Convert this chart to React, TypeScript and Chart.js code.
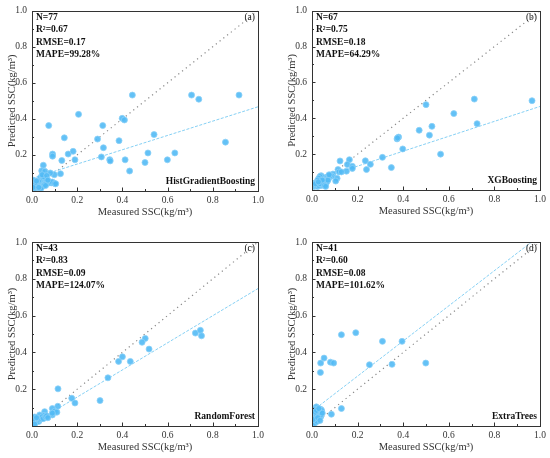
import { useEffect, useRef } from "react";
import { Chart, registerables, Plugin } from "chart.js";

Chart.register(...registerables);

// (a) HistGradientBoosting
const aMeasured = [
  0.444, 0.706, 0.738, 0.916, 0.206, 0.399, 0.409, 0.074, 0.313, 0.143,
  0.29, 0.54, 0.385, 0.316, 0.856, 0.091, 0.091, 0.16, 0.182, 0.19,
  0.132, 0.307, 0.344, 0.346, 0.412, 0.513, 0.5, 0.599, 0.632, 0.432,
  0.126, 0.099, 0.081, 0.05, 0.043, 0.057, 0.007, 0.037,
  0.01, 0.015, 0.02, 0.025, 0.03, 0.035, 0.04, 0.045, 0.05, 0.055,
  0.06, 0.065, 0.07, 0.075, 0.08, 0.085, 0.09, 0.1, 0.105, 0.05,
  0.045, 0.055, 0.04, 0.035, 0.03, 0.025, 0.02, 0.015, 0.012, 0.005,
  0.06, 0.05, 0.045, 0.065, 0.07, 0.04, 0.06, 0.03, 0.02,
];
const aPredicted = [
  0.532, 0.532, 0.509, 0.532, 0.425, 0.403, 0.394, 0.363, 0.363, 0.295,
  0.288, 0.313, 0.279, 0.24, 0.271, 0.205, 0.193, 0.205, 0.22, 0.173,
  0.169, 0.189, 0.174, 0.167, 0.173, 0.211, 0.158, 0.173, 0.211, 0.111,
  0.096, 0.09, 0.1, 0.143, 0.112, 0.109, 0.06, 0.074,
  0.02, 0.025, 0.03, 0.02, 0.035, 0.03, 0.04, 0.05, 0.045, 0.06,
  0.05, 0.045, 0.05, 0.045, 0.048, 0.045, 0.05, 0.042, 0.04, 0.03,
  0.025, 0.035, 0.06, 0.055, 0.05, 0.04, 0.045, 0.035, 0.015, 0.02,
  0.07, 0.08, 0.09, 0.085, 0.06, 0.015, 0.03, 0.02, 0.055,
];
const aFitX = [0, 1];
const aFitY = [0.07, 0.467];
const aStats = ["N=77", "R²=0.67", "RMSE=0.17", "MAPE=99.28%"];

// (b) XGBoosting
const bMeasured = [
  0.965, 0.712, 0.724, 0.5, 0.622, 0.47, 0.526, 0.515, 0.564, 0.373,
  0.38, 0.375, 0.398, 0.309, 0.348, 0.234, 0.256, 0.239, 0.164, 0.123,
  0.155, 0.177, 0.177, 0.151, 0.114, 0.119, 0.129, 0.092, 0.088, 0.11,
  0.104,
  0.01, 0.015, 0.02, 0.025, 0.03, 0.035, 0.04, 0.045, 0.05, 0.055,
  0.06, 0.065, 0.07, 0.075, 0.08, 0.04, 0.035, 0.03, 0.025, 0.045,
  0.05, 0.055, 0.06, 0.04, 0.03, 0.02, 0.05, 0.065, 0.07, 0.035,
  0.045, 0.055, 0.06, 0.015, 0.028, 0.075,
];
const bPredicted = [
  0.498, 0.507, 0.37, 0.476, 0.426, 0.333, 0.355, 0.306, 0.2, 0.285,
  0.295, 0.29, 0.229, 0.182, 0.125, 0.163, 0.143, 0.114, 0.169, 0.162,
  0.142, 0.132, 0.12, 0.105, 0.114, 0.101, 0.101, 0.089, 0.078, 0.065,
  0.05,
  0.02, 0.025, 0.03, 0.02, 0.04, 0.05, 0.06, 0.07, 0.065, 0.055,
  0.07, 0.06, 0.075, 0.07, 0.08, 0.08, 0.075, 0.065, 0.055, 0.04,
  0.03, 0.045, 0.035, 0.025, 0.025, 0.04, 0.05, 0.045, 0.055, 0.035,
  0.055, 0.025, 0.02, 0.035, 0.045, 0.085,
];
const bFitX = [0, 1];
const bFitY = [0.05, 0.466];
const bStats = ["N=67", "R²=0.75", "RMSE=0.18", "MAPE=64.29%"];

// (c) RandomForest
const cMeasured = [
  0.723, 0.745, 0.75, 0.518, 0.501, 0.487, 0.4, 0.383, 0.435, 0.336,
  0.301, 0.115, 0.176, 0.19, 0.114, 0.09, 0.1, 0.11, 0.09, 0.09,
  0.056, 0.053, 0.034, 0.046, 0.028, 0.012,
  0.005, 0.008, 0.01, 0.015, 0.02, 0.025, 0.03, 0.035, 0.04, 0.045,
  0.05, 0.06, 0.065, 0.004, 0.012, 0.02, 0.07,
];
const cPredicted = [
  0.505, 0.52, 0.49, 0.418, 0.476, 0.455, 0.376, 0.351, 0.351, 0.262,
  0.138, 0.202, 0.151, 0.125, 0.107, 0.095, 0.08, 0.075, 0.06, 0.07,
  0.078, 0.058, 0.06, 0.045, 0.031, 0.049,
  0.005, 0.015, 0.025, 0.02, 0.03, 0.04, 0.025, 0.035, 0.04, 0.05,
  0.04, 0.05, 0.055, 0.03, 0.01, 0.045, 0.045,
];
const cFitX = [0, 1];
const cFitY = [0.01, 0.747];
const cStats = ["N=43", "R²=0.83", "RMSE=0.09", "MAPE=124.07%"];

// (d) ExtraTrees
const dMeasured = [
  0.129, 0.192, 0.309, 0.395, 0.499, 0.351, 0.252, 0.053, 0.038, 0.081,
  0.095, 0.037, 0.129, 0.085, 0.019, 0.038, 0.041,
  0.005, 0.008, 0.01, 0.012, 0.015, 0.018, 0.02, 0.022, 0.025, 0.028,
  0.03, 0.032, 0.035, 0.038, 0.04, 0.042, 0.045, 0.01, 0.015, 0.005,
  0.02, 0.03, 0.025, 0.035,
];
const dPredicted = [
  0.496, 0.507, 0.46, 0.46, 0.342, 0.335, 0.333, 0.369, 0.342, 0.347,
  0.342, 0.291, 0.095, 0.064, 0.104, 0.091, 0.073,
  0.01, 0.02, 0.03, 0.015, 0.04, 0.05, 0.06, 0.025, 0.07, 0.08,
  0.055, 0.065, 0.075, 0.05, 0.06, 0.085, 0.07, 0.09, 0.075, 0.035,
  0.085, 0.095, 0.045, 0.03,
];
const dFitX = [0, 0.963];
const dFitY = [0.08, 1.0];
const dStats = ["N=41", "R²=0.60", "RMSE=0.08", "MAPE=101.62%"];

const identityLine = [0, 1];

const SERIF = "'Liberation Serif', 'Times New Roman', serif";

interface PanelProps {
  measured: number[];
  predicted: number[];
  fitX: number[];
  fitY: number[];
  stats: string[];
  tag: string;
  model: string;
  pad: { left: number; right: number; top: number; bottom: number };
}

function Panel({ measured, predicted, fitX, fitY, stats, tag, model, pad }: PanelProps) {
  const canvasRef = useRef<HTMLCanvasElement>(null);

  useEffect(() => {
    if (!canvasRef.current) return;

    // frame, inward ticks and the text inside the plot
    const decor: Plugin<"scatter"> = {
      id: "decor",
      afterDraw(chart) {
        const { ctx, chartArea: area, scales } = chart;
        const xs = scales.x;
        const ys = scales.y;
        ctx.save();
        ctx.strokeStyle = "#333";
        ctx.lineWidth = 1;
        ctx.beginPath();
        for (let i = 1; i < 10; i++) {
          const len = i % 2 === 0 ? 3.5 : 2;
          const px = Math.round(xs.getPixelForValue(i / 10)) + 0.5;
          ctx.moveTo(px, area.bottom);
          ctx.lineTo(px, area.bottom - len);
          const py = Math.round(ys.getPixelForValue(i / 10)) + 0.5;
          ctx.moveTo(area.left, py);
          ctx.lineTo(area.left + len, py);
        }
        ctx.stroke();
        ctx.strokeRect(
          Math.round(area.left) + 0.5,
          Math.round(area.top) + 0.5,
          Math.round(area.right - area.left),
          Math.round(area.bottom - area.top)
        );

        ctx.fillStyle = "#111";
        ctx.textBaseline = "middle";
        ctx.font = `bold 9.5px ${SERIF}`;
        ctx.textAlign = "left";
        stats.forEach((s, i) => {
          ctx.fillText(s, area.left + 4, area.top + 6.5 + i * 12.5);
        });
        ctx.textAlign = "right";
        ctx.fillText(model, area.right - 3, area.bottom - 9);
        ctx.font = `9.5px ${SERIF}`;
        ctx.fillText(tag, area.right - 3, area.top + 6.5);
        ctx.restore();
      },
    };

    const chart = new Chart(canvasRef.current, {
      type: "scatter",
      data: {
        datasets: [
          {
            label: "points",
            data: measured.map((m, i) => ({ x: m, y: predicted[i] })),
            backgroundColor: "rgba(82, 186, 245, 0.9)",
            borderColor: "rgba(140, 208, 248, 1)",
            borderWidth: 0.8,
            pointRadius: 3,
          },
          {
            label: "fit",
            type: "line",
            data: fitX.map((x, i) => ({ x, y: fitY[i] })),
            borderColor: "#86d0f4",
            borderWidth: 1,
            borderDash: [3, 1.5],
            pointRadius: 0,
            fill: false,
          },
          {
            label: "1:1",
            type: "line",
            data: identityLine.map((v) => ({ x: v, y: v })),
            borderColor: "#888",
            borderWidth: 1.2,
            borderDash: [1.2, 3.6],
            pointRadius: 0,
            fill: false,
          },
        ],
      },
      options: {
        responsive: false,
        animation: false,
        layout: { padding: pad },
        plugins: {
          legend: { display: false },
          tooltip: { enabled: false },
        },
        scales: {
          x: {
            type: "linear",
            min: 0,
            max: 1,
            border: { display: false },
            grid: { display: false, drawTicks: false },
            ticks: {
              stepSize: 0.2,
              padding: 4,
              color: "#333",
              font: { family: SERIF, size: 9.5 },
              callback: (v) => Number(v).toFixed(1),
            },
            title: {
              display: true,
              text: "Measured SSC(kg/m³)",
              color: "#333",
              font: { family: SERIF, size: 10.5 },
              padding: { top: 0, bottom: 0 },
            },
            afterFit: (s) => {
              s.height = 28;
            },
          },
          y: {
            type: "linear",
            min: 0,
            max: 1,
            border: { display: false },
            grid: { display: false, drawTicks: false },
            ticks: {
              stepSize: 0.2,
              padding: 5,
              color: "#333",
              font: { family: SERIF, size: 9.5 },
              callback: (v) => (Number(v) === 0 ? "" : Number(v).toFixed(1)),
            },
            title: {
              display: true,
              text: "Predicted SSC(kg/m³)",
              color: "#333",
              font: { family: SERIF, size: 10.5 },
              padding: { top: 6, bottom: 0 },
            },
            afterFit: (s) => {
              s.width = 32;
            },
          },
        },
      },
      plugins: [decor],
    });

    return () => {
      chart.destroy();
    };
  }, [measured, predicted, fitX, fitY, stats, tag, model, pad]);

  return (
    <div style={{ width: 275, height: 229 }}>
      <canvas ref={canvasRef} width={275} height={229} />
    </div>
  );
}

const padA = { left: 0, right: 17, top: 10, bottom: 10 };
const padB = { left: 5, right: 10, top: 10, bottom: 11 };
const padC = { left: 0, right: 17, top: 13, bottom: 4 };
const padD = { left: 5, right: 10, top: 13, bottom: 4 };

export default function App() {
  return (
    <div
      style={{
        position: "absolute",
        left: 0,
        top: 0,
        width: 550,
        height: 458,
        background: "#fff",
        display: "grid",
        gridTemplateColumns: "275px 275px",
        gridTemplateRows: "229px 229px",
      }}
    >
      <Panel measured={aMeasured} predicted={aPredicted} fitX={aFitX} fitY={aFitY} stats={aStats} tag="(a)" model="HistGradientBoosting" pad={padA} />
      <Panel measured={bMeasured} predicted={bPredicted} fitX={bFitX} fitY={bFitY} stats={bStats} tag="(b)" model="XGBoosting" pad={padB} />
      <Panel measured={cMeasured} predicted={cPredicted} fitX={cFitX} fitY={cFitY} stats={cStats} tag="(c)" model="RandomForest" pad={padC} />
      <Panel measured={dMeasured} predicted={dPredicted} fitX={dFitX} fitY={dFitY} stats={dStats} tag="(d)" model="ExtraTrees" pad={padD} />
    </div>
  );
}
